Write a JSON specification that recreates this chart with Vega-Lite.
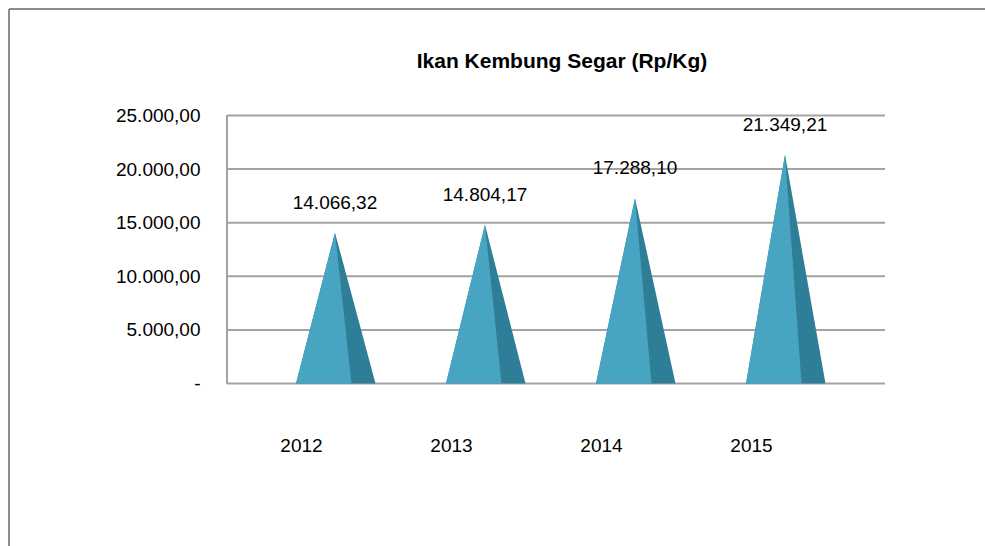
{
  "$schema": "https://vega.github.io/schema/vega-lite/v6.json",
  "autosize": "none",
  "width": 976,
  "height": 537,
  "padding": {"left": 9, "top": 9, "right": 0, "bottom": 0},
  "background": "white",
  "config": {
    "locale": {"number": {"decimal": ",", "thousands": ".", "grouping": [3], "currency": ["Rp", ""]}},
    "view": {"stroke": null},
    "font": "Liberation Sans"
  },
  "title": {
    "text": "Ikan Kembung Segar (Rp/Kg)",
    "orient": "top",
    "anchor": "middle",
    "offset": -81,
    "baseline": "alphabetic",
    "dx": 65,
    "font": "Liberation Sans",
    "fontSize": 21,
    "fontWeight": "bold",
    "color": "#000000"
  },
  "datasets": {
    "harga": [
      {"year": 2012, "value": 14066.32},
      {"year": 2013, "value": 14804.17},
      {"year": 2014, "value": 17288.10},
      {"year": 2015, "value": 21349.21}
    ],
    "grid": [{"v": 0}, {"v": 5000}, {"v": 10000}, {"v": 15000}, {"v": 20000}, {"v": 25000}]
  },
  "layer": [
    {
      "data": {"name": "grid"},
      "mark": {"type": "rule", "color": "#a3a3a3", "strokeWidth": 2},
      "encoding": {
        "y": {
          "field": "v",
          "type": "quantitative",
          "scale": {"domain": [-15158, 34935], "nice": false, "zero": false},
          "axis": {
            "orient": "left",
            "offset": -191,
            "values": [0, 5000, 10000, 15000, 20000, 25000],
            "format": ",.2f",
            "labelExpr": "datum.value === 0 ? '-' : datum.label",
            "domain": false,
            "ticks": false,
            "grid": false,
            "labelPadding": 0,
            "labelFontSize": 19,
            "labelColor": "#000000",
            "labelFont": "Liberation Sans",
            "title": null
          }
        },
        "x": {
          "datum": 2011.28,
          "type": "quantitative",
          "scale": {"domain": [2009.8267, 2016.3333], "nice": false, "zero": false},
          "axis": {
            "orient": "bottom",
            "offset": -110,
            "values": [2012, 2013, 2014, 2015],
            "format": "d",
            "domain": false,
            "ticks": false,
            "grid": false,
            "labelPadding": 0,
            "labelOffset": -34,
            "labelFontSize": 19,
            "labelColor": "#000000",
            "labelFont": "Liberation Sans",
            "title": null
          }
        },
        "x2": {"datum": 2015.6667}
      }
    },
    {
      "data": {"name": "grid"},
      "mark": {"type": "rule", "color": "#a3a3a3", "strokeWidth": 2},
      "encoding": {
        "x": {"datum": 2011.28, "type": "quantitative"},
        "y": {"datum": 0, "type": "quantitative"},
        "y2": {"datum": 25000}
      }
    },
    {
      "data": {"name": "grid"},
      "mark": {"type": "rule", "color": "#8c8c8c", "strokeWidth": 1.5},
      "encoding": {
        "x": {"datum": 2009.8267, "type": "quantitative"}
      }
    },
    {
      "data": {"name": "grid"},
      "mark": {"type": "rule", "color": "#8c8c8c", "strokeWidth": 1.5},
      "encoding": {
        "y": {"datum": 34935, "type": "quantitative"}
      }
    },
    {
      "data": {"name": "harga"},
      "transform": [
        {"calculate": "[-0.26, 0, 0.27]", "as": "dx"},
        {"calculate": "[0, 1, 0]", "as": "k"},
        {"flatten": ["dx", "k"]},
        {"calculate": "datum.year + datum.dx", "as": "px"},
        {"calculate": "datum.value * datum.k", "as": "py"}
      ],
      "mark": {"type": "area", "color": "#2f7e98", "orient": "vertical"},
      "encoding": {
        "x": {"field": "px", "type": "quantitative"},
        "y": {"field": "py", "type": "quantitative"},
        "y2": {"datum": 0},
        "detail": {"field": "year"}
      }
    },
    {
      "data": {"name": "harga"},
      "transform": [
        {"calculate": "[-0.26, 0, 0.11]", "as": "dx"},
        {"calculate": "[0, 1, 0]", "as": "k"},
        {"flatten": ["dx", "k"]},
        {"calculate": "datum.year + datum.dx", "as": "px"},
        {"calculate": "datum.value * datum.k", "as": "py"}
      ],
      "mark": {"type": "area", "color": "#47a5c2", "orient": "vertical"},
      "encoding": {
        "x": {"field": "px", "type": "quantitative"},
        "y": {"field": "py", "type": "quantitative"},
        "y2": {"datum": 0},
        "detail": {"field": "year"}
      }
    },
    {
      "data": {"name": "harga"},
      "mark": {"type": "text", "dy": -30, "fontSize": 19, "color": "#000000", "font": "Liberation Sans"},
      "encoding": {
        "x": {"field": "year", "type": "quantitative"},
        "y": {"field": "value", "type": "quantitative"},
        "text": {"field": "value", "type": "quantitative", "format": ",.2f"}
      }
    }
  ]
}
